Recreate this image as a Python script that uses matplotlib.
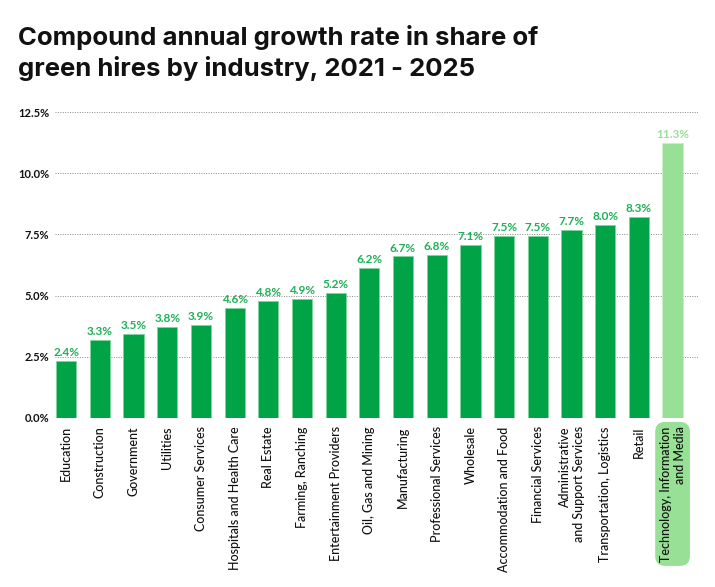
import matplotlib
matplotlib.use("Agg")
import matplotlib.pyplot as plt

categories = ["Education", "Construction", "Government", "Utilities", "Consumer Services",
              "Hospitals and Health Care", "Real Estate", "Farming, Ranching",
              "Entertainment Providers", "Oil, Gas and Mining", "Manufacturing",
              "Professional Services", "Wholesale", "Accommodation and Food",
              "Financial Services", "Administrative\nand Support Services",
              "Transportation, Logistics", "Retail", "Technology, Information\nand Media"]
# bar heights (%)
values = [2.34, 3.17, 3.44, 3.70, 3.81, 4.50, 4.79, 4.87, 5.10, 6.13, 6.60, 6.68,
          7.07, 7.45, 7.45, 7.70, 7.88, 8.21, 11.23]
# value labels as printed above the bars
value_labels = ["2.4%", "3.3%", "3.5%", "3.8%", "3.9%", "4.6%", "4.8%", "4.9%", "5.2%",
                "6.2%", "6.7%", "6.8%", "7.1%", "7.5%", "7.5%", "7.7%", "8.0%", "8.3%", "11.3%"]
yticks = [0.0, 2.5, 5.0, 7.5, 10.0, 12.5]
ytick_labels = ["0.0%", "2.5%", "5.0%", "7.5%", "10.0%", "12.5%"]
title = "Compound annual growth rate in share of\ngreen hires by industry, 2021 - 2025"

DARK = "#00A346"
LIGHT = "#98E096"
LABEL_DARK = "#1DB055"

plt.rcParams['font.family'] = ['Lato', 'DejaVu Sans']

fig = plt.figure(figsize=(7.15, 5.87), dpi=100)
ax = fig.add_axes([0.077, 0.288, 0.899, 0.521])

n = len(values)
colors = [DARK] * (n - 1) + [LIGHT]
x = list(range(n))
ax.bar(x, values, width=0.6, color=colors,
       edgecolor=["#7fd49a"] * (n - 1) + ["#c8f0c6"], linewidth=0.6, zorder=3)

for i, (v, lab) in enumerate(zip(values, value_labels)):
    ax.text(i, v + 0.12, lab, ha='center', va='bottom', fontsize=8.5,
            fontweight='bold', color=(LIGHT if i == n - 1 else LABEL_DARK), zorder=4)

ax.set_xlim(-0.33, n - 1 + 0.75)
ax.set_ylim(0, 12.5)
ax.set_yticks(yticks)
ax.set_yticklabels(ytick_labels, fontsize=8, fontweight='bold', color='#111111')
ax.yaxis.grid(True, linestyle=(0, (1, 1.5)), color='#888888', linewidth=0.7, zorder=0)
ax.set_axisbelow(True)
for s in ax.spines.values():
    s.set_visible(False)
ax.tick_params(axis='y', length=0, pad=4)
ax.tick_params(axis='x', length=0, pad=6)
ax.set_xticks(x)
ax.set_xticklabels(categories, rotation=90, fontsize=9, fontweight='medium', color='#111111',
                   ha='center', va='top', multialignment='right')
last = ax.get_xticklabels()[-1]
last.set_bbox(dict(boxstyle='round,pad=0.35,rounding_size=0.8', fc=LIGHT, ec='none'))

fig.text(0.025, 0.958, title, ha='left', va='top', fontsize=18.5, fontweight='bold',
         color='#111111', linespacing=1.3, family=['Inter', 'DejaVu Sans'])

fig.savefig("out.png", dpi=100)
